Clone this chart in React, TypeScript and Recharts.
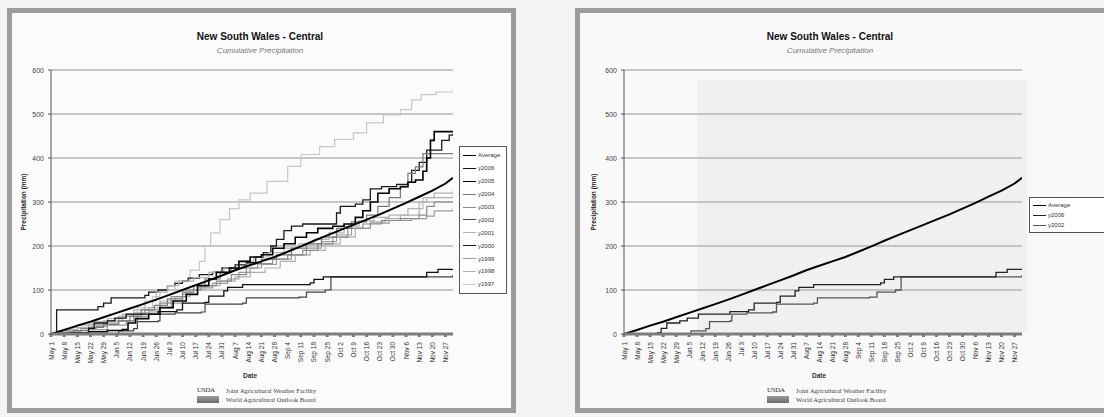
import React from 'react';
import { LineChart, Line, XAxis, YAxis, CartesianGrid } from 'recharts';

const tickDays = [0,7,14,21,28,35,42,49,56,63,70,77,84,91,98,105,112,119,126,133,140,147,154,161,168,175,182,189,196,203,210];
const tickLabels = ['May 1','May 8','May 15','May 22','May 29','Jun 5','Jun 12','Jun 19','Jun 26','Jul 3','Jul 10','Jul 17','Jul 24','Jul 31','Aug 7','Aug 14','Aug 21','Aug 28','Sep 4','Sep 11','Sep 18','Sep 25','Oct 2','Oct 9','Oct 16','Oct 23','Oct 30','Nov 6','Nov 13','Nov 20','Nov 27'];
const yTicks = [0,100,200,300,400,500,600];

// [day, cumulative mm]
const average = [[0,0],[7,9],[14,19],[21,28],[28,38],[35,48],[42,58],[49,68],[56,78],[63,89],[70,100],[77,111],[84,122],[91,133],[98,145],[105,155],[112,165],[119,175],[126,187],[133,199],[140,212],[147,224],[154,236],[161,248],[168,260],[175,272],[182,285],[189,298],[196,312],[203,326],[210,342],[214,355]];
const y2006 = [[0,0],[18,3],[20,13],[23,25],[30,30],[34,36],[40,45],[57,51],[67,55],[70,70],[82,72],[84,86],[92,98],[94,106],[102,112],[138,116],[140,124],[145,130],[198,130],[200,140],[206,147],[214,147]];
const y2002 = [[0,0],[36,7],[44,12],[46,28],[57,30],[58,45],[66,48],[80,50],[82,68],[102,70],[104,82],[132,84],[136,95],[146,100],[149,130],[214,134]];
const y2005 = [[0,0],[10,2],[20,5],[30,8],[38,10],[41,25],[45,35],[52,45],[58,60],[65,75],[72,90],[78,110],[84,125],[88,140],[95,150],[100,165],[106,175],[112,180],[118,195],[124,205],[130,220],[136,230],[142,240],[150,245],[156,250],[162,265],[166,280],[170,300],[174,320],[180,330],[186,335],[190,345],[194,350],[198,370],[200,400],[202,440],[204,460],[214,460]];
const y2004 = [[0,0],[5,3],[12,8],[20,15],[28,22],[36,30],[42,40],[48,55],[55,65],[62,80],[70,95],[76,110],[82,125],[90,140],[96,150],[104,160],[112,170],[120,180],[128,195],[136,205],[144,220],[152,240],[160,255],[168,270],[174,290],[180,310],[186,335],[190,365],[194,380],[198,410],[214,410]];
const y2003 = [[0,0],[8,5],[16,12],[24,18],[30,25],[36,30],[44,45],[50,55],[58,70],[64,85],[72,100],[80,110],[88,120],[96,135],[104,150],[110,160],[118,170],[126,180],[134,190],[142,205],[150,220],[158,240],[166,250],[176,258],[186,262],[196,270],[200,290],[204,300],[214,300]];
const y2001 = [[0,0],[6,10],[14,20],[22,28],[30,35],[38,45],[44,55],[50,75],[56,95],[62,110],[68,120],[76,128],[84,140],[92,150],[100,165],[108,175],[116,185],[124,195],[132,205],[140,215],[148,230],[156,245],[164,258],[172,265],[180,270],[190,285],[198,310],[204,320],[214,325]];
const y2000 = [[0,0],[3,55],[22,55],[25,62],[28,70],[32,82],[50,88],[52,95],[57,100],[62,110],[66,115],[70,120],[73,127],[79,135],[86,140],[91,150],[98,157],[104,162],[109,175],[113,185],[117,200],[120,215],[124,235],[128,245],[134,250],[150,250],[152,275],[154,290],[162,295],[166,305],[170,330],[176,335],[184,340],[190,345],[192,372],[196,390],[200,418],[206,418],[208,440],[212,452],[214,455]];
const y1999 = [[0,0],[10,4],[20,10],[30,20],[40,30],[46,40],[52,50],[58,60],[64,70],[70,90],[78,105],[86,115],[94,125],[100,140],[106,150],[112,158],[120,170],[128,180],[136,195],[144,210],[152,225],[160,240],[170,252],[180,258],[192,262],[200,268],[204,280],[214,285]];
const y1998 = [[0,0],[4,8],[12,15],[20,22],[28,30],[36,40],[44,48],[52,60],[58,75],[66,85],[74,100],[82,110],[90,120],[98,130],[106,140],[114,150],[122,165],[130,180],[138,190],[146,205],[154,220],[162,240],[170,255],[178,262],[186,270],[196,300],[200,310],[214,315]];
const y1997 = [[0,0],[6,5],[14,12],[22,20],[30,30],[38,42],[46,60],[54,85],[58,100],[66,120],[74,145],[79,165],[82,200],[85,230],[90,260],[95,285],[100,305],[106,320],[115,347],[126,381],[133,408],[143,426],[151,442],[161,457],[168,480],[177,498],[186,510],[192,532],[197,544],[205,550],[214,557]];

const toRows = (pts: number[][]) => pts.map(([day, v]) => ({ day, v }));

const leftSeries = [
  { name: 'Average', pts: average, color: '#000000', w: 2, type: 'linear' },
  { name: 'y2006', pts: y2006, color: '#111111', w: 1.3, type: 'stepAfter' },
  { name: 'y2005', pts: y2005, color: '#000000', w: 1.6, type: 'stepAfter' },
  { name: 'y2004', pts: y2004, color: '#7a7a7a', w: 1.2, type: 'stepAfter' },
  { name: 'y2003', pts: y2003, color: '#8c8c8c', w: 1.2, type: 'stepAfter' },
  { name: 'y2002', pts: y2002, color: '#444444', w: 1.2, type: 'stepAfter' },
  { name: 'y2001', pts: y2001, color: '#b4b4b4', w: 1.2, type: 'stepAfter' },
  { name: 'y2000', pts: y2000, color: '#1a1a1a', w: 1.3, type: 'stepAfter' },
  { name: 'y1999', pts: y1999, color: '#9a9a9a', w: 1.2, type: 'stepAfter' },
  { name: 'y1998', pts: y1998, color: '#b0b0b0', w: 1.2, type: 'stepAfter' },
  { name: 'y1997', pts: y1997, color: '#c8c8c8', w: 1.2, type: 'stepAfter' },
];
const rightSeries = [
  { name: 'Average', pts: average, color: '#000000', w: 2, type: 'linear' },
  { name: 'y2006', pts: y2006, color: '#222222', w: 1.3, type: 'stepAfter' },
  { name: 'y2002', pts: y2002, color: '#555555', w: 1.3, type: 'stepAfter' },
];

const FONT = 'Liberation Sans, Arial, sans-serif';

const DateTick = (props: any) => {
  const { x, y, payload } = props;
  const i = tickDays.indexOf(payload.value);
  return (
    <text transform={`translate(${x + 2.5},${y + 3}) rotate(-90)`} textAnchor="end" fontSize={6.5} fill="#333" fontFamily={FONT}>
      {tickLabels[i] ?? ''}
    </text>
  );
};

const ValueTick = (props: any) => {
  const { x, y, payload } = props;
  return (
    <text x={x - 2} y={y} dy={2.5} textAnchor="end" fontSize={7} fill="#444" fontFamily={FONT}>
      {payload.value}
    </text>
  );
};

const Panel = ({ series, width, yAxisW, rightM, labelX }: any) => (
  <LineChart width={width} height={417} margin={{ top: 70, right: rightM, bottom: 53, left: 0 }}>
    <CartesianGrid horizontal vertical={false} stroke="#b5b5b5" strokeWidth={1.6} />
    <XAxis
      type="number"
      dataKey="day"
      domain={[0, 214]}
      ticks={tickDays}
      interval={0}
      height={30}
      tick={<DateTick />}
      tickSize={3}
      stroke="#7d7d7d"
      strokeWidth={3}
      allowDataOverflow
    />
    <YAxis
      type="number"
      domain={[0, 600]}
      ticks={yTicks}
      width={yAxisW}
      tickSize={3}
      tick={<ValueTick />}
      stroke="#555"
      label={{ value: 'Precipitation (mm)', angle: -90, position: 'insideLeft', offset: labelX, style: { fontSize: 6.5, fontWeight: 'bold', fill: '#222', textAnchor: 'middle', fontFamily: FONT } }}
    />
    {series.slice().reverse().map((s: any) => (
      <Line
        key={s.name}
        data={toRows(s.pts)}
        dataKey="v"
        name={s.name}
        type={s.type}
        stroke={s.color}
        strokeWidth={s.w}
        dot={false}
        isAnimationActive={false}
      />
    ))}
  </LineChart>
);

const LegendBox = ({ series, left, top, rowH, width }: any) => (
  <div style={{ position: 'absolute', left, top, width, border: '1px solid #555', background: '#fff', padding: '2px 0', boxSizing: 'border-box' }}>
    {series.map((s: any) => (
      <div key={s.name} style={{ height: rowH, display: 'flex', alignItems: 'center', fontSize: 6, fontFamily: FONT, color: '#333' }}>
        <div style={{ width: 13, height: 0, borderTop: `${Math.max(1, s.w - 0.3)}px solid ${s.color}`, marginLeft: 3, marginRight: 2 }} />
        <span>{s.name}</span>
      </div>
    ))}
  </div>
);

const Titles = ({ cx }: any) => (
  <>
    <div style={{ position: 'absolute', left: cx - 100, top: 31, width: 200, textAlign: 'center', fontFamily: FONT, fontWeight: 'bold', fontSize: 10, color: '#111' }}>
      New South Wales - Central
    </div>
    <div style={{ position: 'absolute', left: cx - 100, top: 46, width: 200, textAlign: 'center', fontFamily: FONT, fontStyle: 'italic', fontSize: 8, color: '#777' }}>
      Cumulative Precipitation
    </div>
  </>
);

const Footer = ({ dateX, logoX }: any) => (
  <>
    <div style={{ position: 'absolute', left: dateX - 20, top: 372, width: 40, textAlign: 'center', fontFamily: FONT, fontWeight: 'bold', fontSize: 6.5, color: '#333' }}>Date</div>
    <div style={{ position: 'absolute', left: logoX, top: 386, fontFamily: 'Liberation Serif, serif', fontSize: 7, color: '#333', letterSpacing: -0.3 }}>USDA</div>
    <div style={{ position: 'absolute', left: logoX, top: 396, width: 22, height: 7, background: 'linear-gradient(#9a9a9a, #6d6d6d)' }} />
    <div style={{ position: 'absolute', left: logoX + 29, top: 386, fontFamily: 'Liberation Serif, serif', fontSize: 6.5, color: '#444', lineHeight: '9px' }}>
      <div>Joint Agricultural Weather Facility</div>
      <div>World Agricultural Outlook Board</div>
    </div>
  </>
);

export default function App() {
  return (
    <div style={{ position: 'absolute', left: 0, top: 0, width: 1104, height: 417, background: '#f4f4f4', overflow: 'hidden' }}>
      <div style={{ position: 'absolute', left: 7, top: 8, width: 509, height: 405, border: '5px solid #9c9c9c', background: '#fbfbfb', boxSizing: 'border-box' }} />
      <div style={{ position: 'absolute', left: 575, top: 8, width: 560, height: 405, border: '5px solid #9c9c9c', background: '#f9f9f9', boxSizing: 'border-box' }} />
      <div style={{ position: 'absolute', left: 697, top: 80, width: 330, height: 252, background: '#f0f0f0' }} />

      <Titles cx={260} />
      <Titles cx={830} />

      <div style={{ position: 'absolute', left: 0, top: 0 }}>
        <Panel series={leftSeries} width={510} yAxisW={51} rightM={57} labelX={24} />
      </div>
      <div style={{ position: 'absolute', left: 552, top: 0 }}>
        <Panel series={rightSeries} width={552} yAxisW={72} rightM={82} labelX={42} />
      </div>

      <LegendBox series={leftSeries} left={459} top={146} rowH={12.9} width={48} />
      <LegendBox series={rightSeries} left={1029} top={197} rowH={10} width={80} />

      <Footer dateX={250} logoX={197} />
      <Footer dateX={819} logoX={767} />
    </div>
  );
}
